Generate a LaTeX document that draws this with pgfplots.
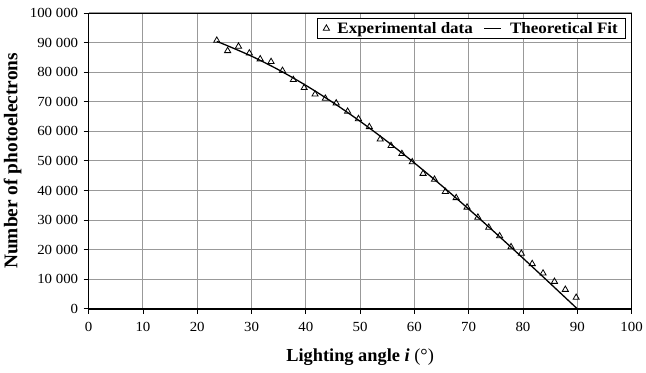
\documentclass[border=0pt]{standalone}
\usepackage{pgfplots}
\pgfplotsset{compat=1.18}
\usepackage{fontspec}
\setmainfont{Liberation Serif}
\newfontfamily\tickfont{Liberation Serif}[FakeStretch=1.07]
\newfontfamily\legfont{Liberation Serif}[FakeStretch=1.07]

\pgfplotstableread{
x y
23.6 90700
25.6 87200
27.6 88700
29.6 86400
31.6 84400
33.6 83500
35.7 80500
37.7 77400
39.7 74700
41.7 72500
43.6 71100
45.6 69500
47.7 66700
49.7 64200
51.7 61500
53.7 57300
55.7 55100
57.7 52400
59.6 49600
61.6 45700
63.7 43700
65.7 39600
67.7 37500
69.7 34300
71.7 30900
73.7 27500
75.7 24600
77.8 20900
79.7 18700
81.7 15200
83.7 12000
85.8 9200
87.8 6500
89.8 3800
}\expdata

\pgfplotstableread{
x y
23.6 90360
25 89360
30 85390
35 80770
40 75530
45 69720
50 63380
55 56560
60 49300
65 41670
70 33720
75 25520
80 17120
85 8590
90 0
}\fitdata

\begin{document}
\begin{tikzpicture}
\begin{axis}[
  scale only axis,
  width=545bp, height=297bp,
  xmin=0, xmax=100, ymin=0, ymax=100000,
  scaled y ticks=false,
  xtick={0,10,20,30,40,50,60,70,80,90,100},
  xticklabels={0,10,20,30,40,50,60,70,80,90,100},
  ytick={0,10000,20000,30000,40000,50000,60000,70000,80000,90000,100000},
  yticklabels={0,10 000,20 000,30 000,40 000,50 000,60 000,70 000,80 000,90 000,100 000},
  xtick pos=bottom, ytick pos=left,
  tick align=outside,
  major tick length=5bp,
  tick style={black, line width=0.8bp},
  grid=major,
  major grid style={draw=black!40, line width=0.9bp},
  axis line style={black, line width=0.8bp},
  every tick label/.append style={font=\tickfont\fontsize{14}{16}\selectfont, text=black},
  xticklabel style={yshift=-5bp},
  yticklabel style={xshift=-2bp},
  xlabel={\textbf{Lighting angle \textit{i}}\ (°)},
  ylabel={\textbf{Number of photoelectrons}},
  every axis x label/.style={at={(axis description cs:0.5,-0.1785)}, anchor=base, font=\fontsize{18.5}{20}\selectfont},
  every axis y label/.style={at={(axis description cs:-0.1312,0.5)}, anchor=base, rotate=90, font=\fontsize{19.5}{21}\selectfont},
  legend columns=2,
  legend style={at={(rel axis cs:0.99,0.982)}, anchor=north east, draw=black, line width=0.8bp, fill=white,
    font=\legfont\bfseries\fontsize{16}{18}\selectfont, inner xsep=6bp, inner ysep=1.5bp,
    /tikz/every odd column/.append style={column sep=6bp},
    /tikz/every even column/.append style={column sep=9bp}},
  legend cell align=left,
  clip=false,
]
\addplot[only marks, mark=triangle, mark size=3.6pt, mark options={black, line width=0.8bp, fill=white}] table[x=x,y=y]{\expdata};
\addlegendentry{Experimental data}
\addplot[black, line width=1.3bp, smooth, no marks] table[x=x,y=y]{\fitdata};
\addlegendentry{Theoretical Fit}
\draw[black, line width=1.5bp] (rel axis cs:0,1) -- (rel axis cs:0,0) -- (rel axis cs:1,0);
\end{axis}
\path (current axis.south west) ++(-89bp,-64bp) (current axis.north east) ++(12bp,13bp);
\end{tikzpicture}
\end{document}
